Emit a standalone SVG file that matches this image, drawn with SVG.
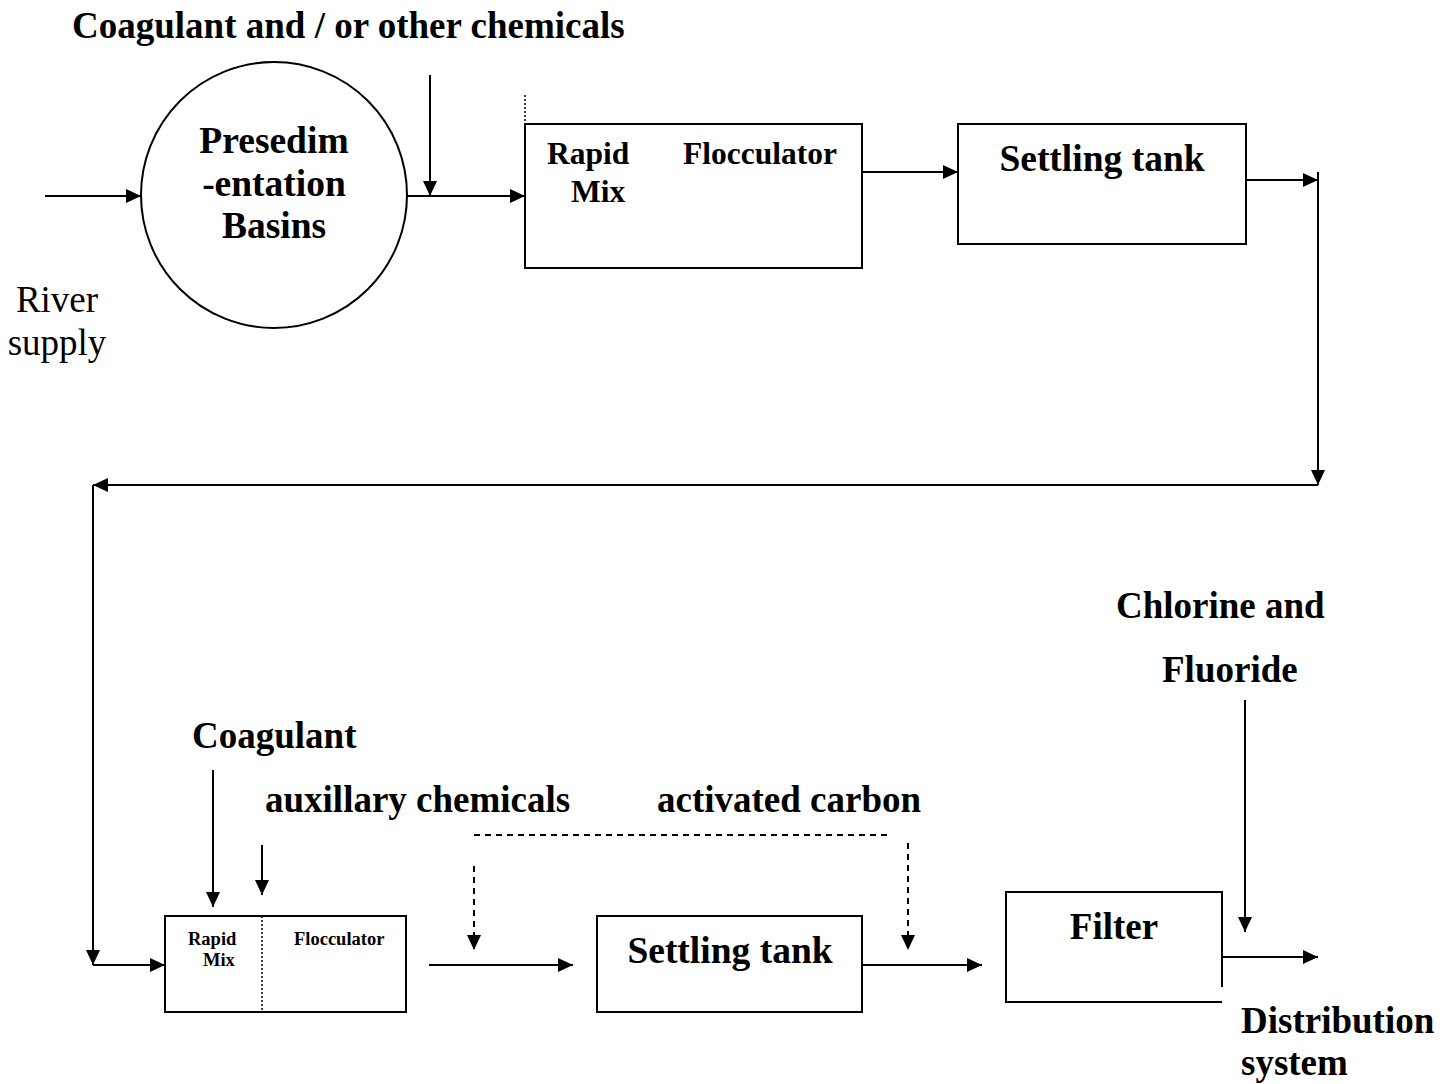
<svg xmlns="http://www.w3.org/2000/svg" width="1454" height="1084" viewBox="0 0 1454 1084">
<style>
text{font-family:"Liberation Serif","Times New Roman",serif;fill:#000}
.b{font-weight:bold}
.box{fill:none;stroke:#000;stroke-width:2}
.ln{fill:none;stroke:#000;stroke-width:2}
.dash{fill:none;stroke:#000;stroke-width:2;stroke-dasharray:6,5}
.dot{fill:none;stroke:#000;stroke-width:1.5;stroke-dasharray:2,2}
</style>
<defs>
<marker id="ah" markerUnits="userSpaceOnUse" markerWidth="16" markerHeight="14" refX="15" refY="7" orient="auto">
<path d="M0,0 L15,7 L0,14 Z" fill="#000"/>
</marker>
</defs>
<rect width="1454" height="1084" fill="#fff"/>
<text class="b" x="72" y="38" font-size="37">Coagulant and / or other chemicals</text>
<text x="57" y="312" font-size="37" text-anchor="middle">River</text>
<text x="57" y="355" font-size="37" text-anchor="middle">supply</text>
<g id="presed">
<ellipse cx="274" cy="195" rx="133" ry="133" class="box"/>
<text class="b" x="274" y="153" font-size="37.5" text-anchor="middle">Presedim</text>
<text class="b" x="274" y="196" font-size="37.5" text-anchor="middle">-entation</text>
<text class="b" x="274" y="238" font-size="37.5" text-anchor="middle">Basins</text>
</g>
<g id="mix1">
<rect x="525" y="124" width="337" height="144" class="box"/>
<line x1="525" y1="95" x2="525" y2="124" class="dot"/>
<text class="b" x="547" y="164" font-size="31.5">Rapid</text>
<text class="b" x="571" y="202" font-size="31.5">Mix</text>
<text class="b" x="683" y="164" font-size="31.5">Flocculator</text>
</g>
<g id="settle1">
<rect x="958" y="124" width="288" height="120" class="box"/>
<text class="b" x="1102" y="171" font-size="37.5" text-anchor="middle">Settling tank</text>
</g>
<text class="b" x="192" y="748" font-size="37">Coagulant</text>
<text class="b" x="265" y="812" font-size="37">auxillary chemicals</text>
<text class="b" x="657" y="812" font-size="37">activated carbon</text>
<text class="b" x="1116" y="618" font-size="37">Chlorine and</text>
<text class="b" x="1162" y="682" font-size="37">Fluoride</text>
<text class="b" x="1241" y="1033" font-size="37">Distribution</text>
<text class="b" x="1241" y="1075" font-size="37">system</text>
<g id="mix2">
<rect x="165" y="916" width="241" height="96" class="box"/>
<line x1="262" y1="916" x2="262" y2="1012" class="dot"/>
<text class="b" x="188" y="945" font-size="18.5">Rapid</text>
<text class="b" x="203" y="966" font-size="18.5">Mix</text>
<text class="b" x="294" y="945" font-size="18.5">Flocculator</text>
</g>
<g id="settle2">
<rect x="597" y="916" width="265" height="96" class="box"/>
<text class="b" x="730" y="963" font-size="37.5" text-anchor="middle">Settling tank</text>
</g>
<g id="filter">
<path d="M1222,987 L1222,892 L1006,892 L1006,1002 L1222,1002" class="box"/>
<text class="b" x="1114" y="939" font-size="37" text-anchor="middle">Filter</text>
</g>
<g id="connectors">
<line x1="45" y1="196" x2="141" y2="196" class="ln" marker-end="url(#ah)"/>
<line x1="430" y1="75" x2="430" y2="196" class="ln" marker-end="url(#ah)"/>
<line x1="407" y1="196" x2="525" y2="196" class="ln" marker-end="url(#ah)"/>
<line x1="862" y1="172" x2="958" y2="172" class="ln" marker-end="url(#ah)"/>
<line x1="1246" y1="180" x2="1318" y2="180" class="ln" marker-end="url(#ah)"/>
<line x1="1318" y1="172" x2="1318" y2="485" class="ln" marker-end="url(#ah)"/>
<line x1="1318" y1="485" x2="93" y2="485" class="ln" marker-end="url(#ah)"/>
<line x1="93" y1="485" x2="93" y2="965" class="ln" marker-end="url(#ah)"/>
<line x1="93" y1="965" x2="165" y2="965" class="ln" marker-end="url(#ah)"/>
<line x1="213" y1="770" x2="213" y2="907" class="ln" marker-end="url(#ah)"/>
<line x1="262" y1="845" x2="262" y2="895" class="ln" marker-end="url(#ah)"/>
<line x1="429" y1="965" x2="573" y2="965" class="ln" marker-end="url(#ah)"/>
<line x1="474" y1="835" x2="887" y2="835" class="dash"/>
<line x1="474" y1="866" x2="474" y2="950" class="dash" marker-end="url(#ah)"/>
<line x1="908" y1="843" x2="908" y2="950" class="dash" marker-end="url(#ah)"/>
<line x1="862" y1="965" x2="982" y2="965" class="ln" marker-end="url(#ah)"/>
<line x1="1245" y1="700" x2="1245" y2="932" class="ln" marker-end="url(#ah)"/>
<line x1="1222" y1="957" x2="1318" y2="957" class="ln" marker-end="url(#ah)"/>
</g>
</svg>
